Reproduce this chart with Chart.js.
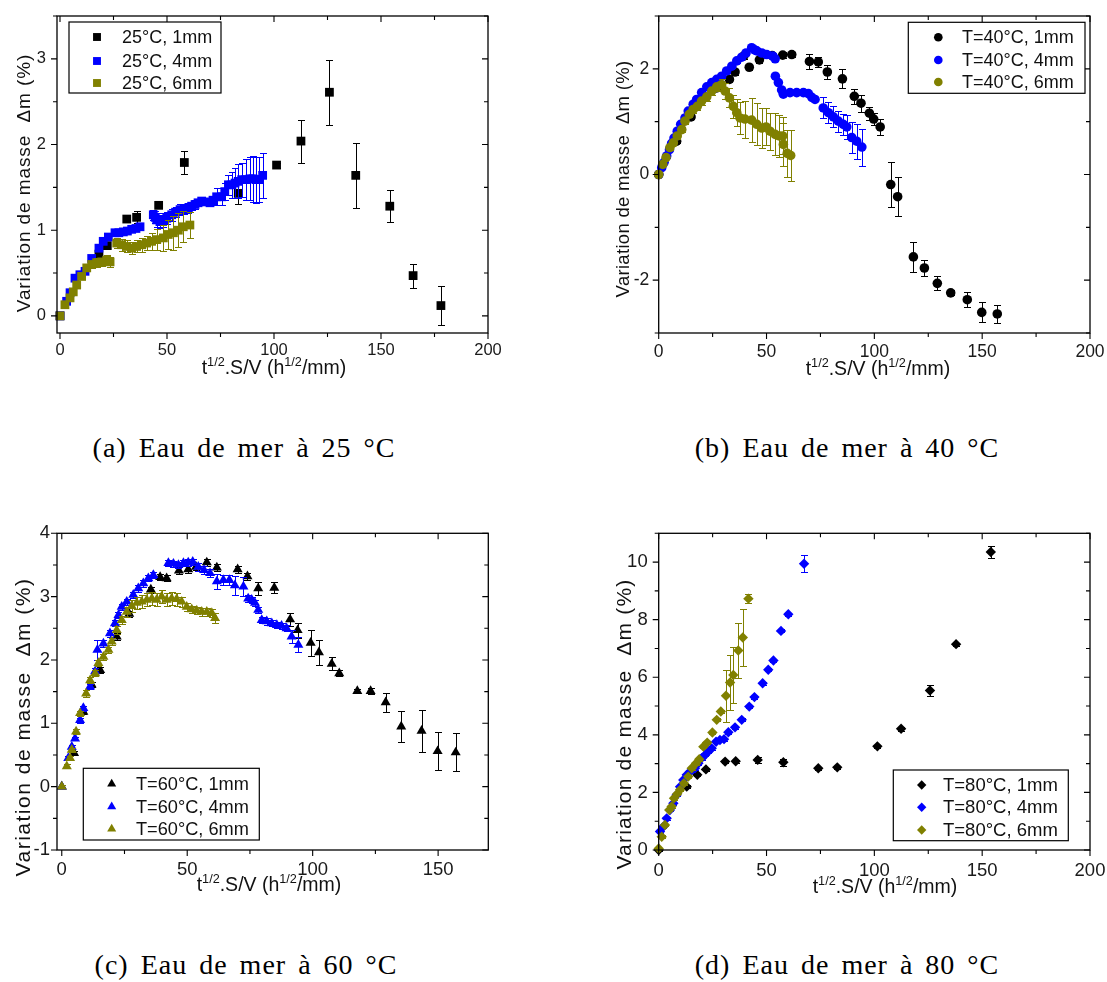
<!DOCTYPE html>
<html>
<head>
<meta charset="utf-8">
<script src="https://cdn.jsdelivr.net/npm/chart.js@4.4.0/dist/chart.umd.min.js"></script>
<style>
  body { margin: 0; background: #fff; width: 1107px; height: 982px; position: relative; overflow: hidden; font-family: "Liberation Sans", Arial, sans-serif; color: #111; }
  canvas { position: absolute; }
  .xt { position: absolute; white-space: nowrap; line-height: 1; transform: translateX(-50%); }
  .xt sup { font-size: 0.65em; vertical-align: 0.6em; line-height: 0; }
  .yt { position: absolute; white-space: pre; line-height: 1; transform: translate(-50%, -50%) rotate(-90deg); }
  .cap { position: absolute; white-space: nowrap; line-height: 1; transform: translateX(-50%); font-family: "Liberation Serif", "DejaVu Serif", serif; font-size: 28px; letter-spacing: 1px; word-spacing: 4px; color: #000; }
</style>
</head>
<body>
<canvas id="ca" width="540" height="400" style="left:0px;top:0px"></canvas>
<canvas id="cb" width="547" height="400" style="left:560px;top:0px"></canvas>
<canvas id="cc" width="540" height="400" style="left:0px;top:500px"></canvas>
<canvas id="cd" width="547" height="400" style="left:560px;top:500px"></canvas>

<div class="yt" style="left:23px;top:183px;font-size:19px;letter-spacing:0.9px">Variation de masse  Δm (%)</div>
<div class="yt" style="left:623px;top:179px;font-size:18.5px;letter-spacing:0.3px">Variation de masse  Δm (%)</div>
<div class="yt" style="left:22px;top:727px;font-size:21px;letter-spacing:1.5px">Variation de masse  Δm (%)</div>
<div class="yt" style="left:623px;top:724px;font-size:21px;letter-spacing:1.2px">Variation de masse  Δm (%)</div>

<div class="xt" style="left:274px;top:358px;font-size:19.5px">t<sup>1/2</sup>.S/V (h<sup>1/2</sup>/mm)</div>
<div class="xt" style="left:878px;top:359px;font-size:19.5px">t<sup>1/2</sup>.S/V (h<sup>1/2</sup>/mm)</div>
<div class="xt" style="left:269px;top:875px;font-size:19.5px">t<sup>1/2</sup>.S/V (h<sup>1/2</sup>/mm)</div>
<div class="xt" style="left:885px;top:877px;font-size:19.5px">t<sup>1/2</sup>.S/V (h<sup>1/2</sup>/mm)</div>

<div class="cap" style="left:244px;top:434px">(a) Eau de mer à 25 °C</div>
<div class="cap" style="left:847px;top:434px">(b) Eau de mer à 40 °C</div>
<div class="cap" style="left:246px;top:951px">(c) Eau de mer à 60 °C</div>
<div class="cap" style="left:847px;top:951px">(d) Eau de mer à 80 °C</div>

<script>
// [x, y, error]
const a1mm = [[0,0,0.02],[18.2,0.72,0.04],[22.1,0.82,0.03],[31.2,1.13,0.03],[35.8,1.15,0.07],[46.1,1.29,0.03],[58.1,1.79,0.13],[83.3,1.43,0.12],[101.2,1.76,0.03],[112.6,2.04,0.25],[125.9,2.61,0.38],[138.2,1.64,0.38],[154.1,1.28,0.19],[165,0.47,0.14],[178,0.12,0.23]];
const a4mm = [[0,0,0.02],[3.1,0.17,0.03],[4.7,0.27,0.03],[7,0.44,0.03],[9.3,0.48,0.03],[11.7,0.52,0.03],[14.8,0.67,0.03],[18.2,0.79,0.03],[20.2,0.87,0.03],[22.6,0.92,0.03],[25.7,0.97,0.03],[27.5,0.97,0.03],[29.6,0.98,0.03],[31.5,0.99,0.03],[33.5,1.01,0.03],[35.5,1.02,0.03],[37.4,1.04,0.04],[43.6,1.18,0.06],[44.5,1.15,0.07],[45.2,1.12,0.08],[46.7,1.10,0.08],[48,1.12,0.08],[49.9,1.14,0.07],[52.2,1.18,0.07],[54,1.21,0.06],[56.1,1.24,0.06],[58,1.25,0.06],[60,1.26,0.06],[61.5,1.28,0.05],[63.1,1.30,0.05],[64.5,1.32,0.04],[66.2,1.34,0.04],[68,1.33,0.04],[70.1,1.32,0.04],[71.5,1.35,0.05],[73.2,1.39,0.1],[75.5,1.39,0.1],[77,1.45,0.1],[78.7,1.53,0.12],[80.3,1.53,0.15],[81.8,1.55,0.18],[83.3,1.57,0.2],[84.9,1.59,0.2],[86.8,1.59,0.24],[88.8,1.60,0.25],[90.2,1.60,0.27],[91.6,1.59,0.27],[93.2,1.59,0.26],[94.7,1.64,0.26]];
const a6mm = [[0,0,0.02],[2.3,0.13,0.02],[4.7,0.21,0.02],[6.2,0.28,0.02],[7.8,0.36,0.02],[10.1,0.46,0.03],[12.5,0.56,0.03],[14.8,0.60,0.04],[17.1,0.62,0.05],[19.5,0.63,0.05],[21.8,0.65,0.06],[23.4,0.63,0.06],[26.5,0.85,0.06],[28.8,0.83,0.07],[31.2,0.81,0.07],[33.5,0.79,0.07],[35.8,0.81,0.07],[38.2,0.83,0.08],[40.5,0.85,0.08],[42.8,0.87,0.1],[45.2,0.89,0.12],[48.3,0.91,0.15],[50.6,0.95,0.17],[53,0.97,0.2],[55.3,1.0,0.2],[57.6,1.04,0.18],[60.7,1.06,0.15]];

const b1mm = [[0,0,0.02],[8.3,0.63,0.04],[15,1.09,0.04],[26.9,1.64,0.05],[32.8,1.80,0.05],[35.4,1.94,0.05],[39.4,2.24,0.05],[42,2.03,0.05],[46.7,2.17,0.06],[52.6,2.25,0.05],[57.5,2.26,0.05],[61.7,2.27,0.05],[69.9,2.14,0.15],[74,2.13,0.1],[78.2,1.94,0.13],[85.2,1.81,0.18],[90.7,1.48,0.14],[93.8,1.35,0.16],[97.7,1.16,0.12],[99.7,1.05,0.12],[102.7,0.90,0.15],[107.6,-0.19,0.42],[110.8,-0.42,0.37],[118.1,-1.56,0.28],[123.2,-1.77,0.15],[129.2,-2.06,0.13],[135.4,-2.24,0.05],[143.1,-2.37,0.14],[149.8,-2.61,0.19],[157,-2.64,0.17]];
const b4mm = [[0,0,0.02],[1.4,0.13,0.02],[2.5,0.23,0.02],[3.7,0.35,0.03],[5,0.47,0.03],[6,0.59,0.03],[7.1,0.69,0.03],[8.6,0.82,0.03],[10.2,0.95,0.03],[12.2,1.07,0.04],[13.7,1.20,0.04],[16,1.33,0.05],[17.6,1.42,0.04],[19.9,1.55,0.04],[22.3,1.66,0.04],[24.6,1.74,0.04],[26.9,1.80,0.04],[29.2,1.86,0.04],[31.5,1.96,0.04],[33.9,2.05,0.04],[36.2,2.15,0.04],[38.5,2.22,0.04],[40.5,2.30,0.04],[43.1,2.40,0.04],[44.5,2.36,0.05],[45.5,2.34,0.05],[47.8,2.30,0.06],[50.1,2.27,0.06],[52.9,2.24,0.06],[54,2.19,0.05],[54.1,1.86,0.03],[55.5,1.74,0.03],[57,1.60,0.03],[57.8,1.52,0.03],[60.9,1.55,0.03],[64,1.55,0.03],[67.1,1.55,0.03],[69.4,1.53,0.03],[71,1.46,0.03],[72.5,1.42,0.03],[76.3,1.26,0.2],[78.7,1.17,0.2],[81,1.09,0.2],[83.3,1.01,0.2],[85.6,0.95,0.2],[87.2,0.90,0.22],[89.5,0.70,0.3],[91.8,0.63,0.33],[94.2,0.52,0.35]];
const b6mm = [[0,0,0.02],[1.9,0.19,0.03],[3.4,0.32,0.03],[5.2,0.51,0.04],[6.8,0.60,0.04],[8.6,0.73,0.05],[10.7,0.85,0.05],[12.2,1.01,0.06],[14.2,1.14,0.06],[16,1.23,0.07],[17.9,1.29,0.07],[19.9,1.39,0.08],[22.3,1.47,0.08],[24.6,1.58,0.08],[26.9,1.66,0.08],[29.2,1.70,0.1],[30.8,1.58,0.15],[32.8,1.45,0.18],[34.6,1.29,0.22],[36.2,1.17,0.25],[37.7,1.07,0.3],[40,1.05,0.35],[43.1,1.03,0.42],[45.5,0.95,0.4],[47.8,0.88,0.38],[49.8,0.90,0.35],[51.6,0.82,0.35],[54,0.76,0.4],[55.9,0.73,0.4],[57.5,0.73,0.35],[57.8,0.57,0.4],[59.6,0.40,0.45],[61.2,0.36,0.48]];

const c1mm = [[0,0,0.02],[4.9,0.53,0.03],[8.6,1.18,0.04],[11.9,1.61,0.04],[15.3,1.84,0.05],[21.9,2.37,0.05],[26.9,2.73,0.05],[35.5,3.11,0.05],[39.2,3.31,0.05],[41.8,3.29,0.05],[46.7,3.41,0.06],[50.4,3.43,0.05],[53.5,3.47,0.05],[57.8,3.54,0.05],[61.8,3.46,0.06],[70.1,3.43,0.06],[74,3.32,0.06],[78.3,3.13,0.1],[84.7,3.14,0.09],[91,2.64,0.1],[94,2.47,0.12],[99.2,2.27,0.2],[102.5,2.12,0.2],[107.6,1.94,0.1],[110.6,1.79,0.05],[117.8,1.51,0.03],[123.1,1.51,0.05],[129.1,1.33,0.15],[135.3,0.95,0.25],[143.4,0.88,0.33],[149.8,0.56,0.3],[157,0.54,0.3]];
const c4mm = [[0,0,0.02],[2.6,0.45,0.03],[4,0.63,0.03],[5.3,0.76,0.03],[7.3,1.05,0.04],[8.6,1.24,0.04],[11.3,1.58,0.04],[13.3,1.82,0.05],[14.2,2.16,0.16],[16.6,2.26,0.05],[19.2,2.42,0.05],[21.2,2.58,0.05],[22.6,2.71,0.05],[23.9,2.84,0.05],[25.9,2.92,0.05],[28.5,3.03,0.05],[30.5,3.13,0.05],[32.5,3.21,0.05],[34.5,3.29,0.05],[36.5,3.34,0.05],[42.5,3.53,0.05],[44.5,3.52,0.05],[46.5,3.50,0.05],[48.5,3.53,0.05],[50.4,3.54,0.05],[52.2,3.55,0.05],[54.4,3.47,0.06],[56.7,3.42,0.06],[59.1,3.37,0.06],[61.8,3.24,0.12],[64.4,3.26,0.08],[66.8,3.26,0.08],[69,3.18,0.15],[72.4,3.16,0.15],[74.3,2.97,0.06],[75.7,2.95,0.05],[77,2.90,0.05],[78.3,2.79,0.05],[79.7,2.63,0.05],[81.7,2.61,0.05],[83.7,2.58,0.05],[85.7,2.55,0.05],[87.6,2.54,0.05],[89.6,2.50,0.05],[91.6,2.37,0.1],[94.3,2.24,0.12]];
const c6mm = [[0,0,0.02],[2,0.32,0.03],[3.3,0.45,0.03],[4,0.58,0.03],[5.7,0.87,0.04],[7.3,1.16,0.04],[9.7,1.47,0.05],[11.3,1.68,0.05],[13.3,1.79,0.05],[14.6,1.95,0.05],[16.6,2.05,0.05],[18.6,2.16,0.05],[19.9,2.29,0.05],[21.9,2.47,0.06],[23.9,2.63,0.06],[25.9,2.76,0.08],[27.9,2.85,0.1],[29.9,2.90,0.1],[31.9,2.92,0.1],[33.9,2.95,0.1],[35.9,2.97,0.1],[37.8,2.95,0.1],[39.8,3.0,0.1],[41.8,2.95,0.1],[43.8,2.97,0.1],[45.8,2.96,0.1],[47.8,2.92,0.08],[49.8,2.84,0.06],[51.8,2.80,0.06],[53.8,2.78,0.06],[55.8,2.76,0.06],[57.8,2.76,0.06],[59.8,2.74,0.06],[61.1,2.66,0.08]];

const d1mm = [[0,0,0.02],[13,2.2,0.05],[17.9,2.61,0.05],[21.9,2.80,0.05],[30.8,3.07,0.05],[35.7,3.08,0.05],[45.9,3.13,0.1],[57.8,3.05,0.12],[74,2.84,0.05],[82.8,2.87,0.05],[101.4,3.60,0.05],[112.4,4.21,0.07],[125.8,5.54,0.2],[137.9,7.15,0.05],[154,10.35,0.2]];
const d4mm = [[0.6,0.64,0.05],[2.1,0.81,0.05],[3.7,1.10,0.05],[5.2,1.39,0.05],[6.8,1.62,0.05],[8.3,1.91,0.05],[9.9,2.20,0.05],[11.4,2.43,0.05],[13,2.61,0.05],[14.5,2.72,0.05],[16.8,2.84,0.05],[18.4,3.01,0.05],[19.9,3.19,0.05],[21.5,3.30,0.05],[23,3.42,0.05],[24.6,3.53,0.05],[26.6,3.76,0.05],[28.4,3.82,0.05],[30.3,3.85,0.05],[32.3,4.09,0.05],[35.4,4.26,0.05],[38.5,4.52,0.05],[42,4.98,0.05],[44.4,5.31,0.05],[48.2,5.79,0.05],[50.8,6.26,0.05],[53.2,6.58,0.05],[56.7,7.61,0.05],[60.1,8.19,0.05],[67.4,9.94,0.3]];
const d6mm = [[0,0.05,0.02],[1.4,0.46,0.05],[2.9,0.87,0.05],[4.9,1.39,0.05],[6,1.51,0.05],[7.1,1.80,0.05],[8.6,1.95,0.05],[9.9,2.09,0.05],[11.7,2.32,0.05],[13.7,2.55,0.05],[15.3,2.84,0.05],[17.3,3.01,0.05],[18.8,3.15,0.05],[20.7,3.59,0.05],[22.5,3.73,0.05],[24.9,4.08,0.05],[26.9,4.52,0.05],[28.8,4.81,0.05],[31.2,5.36,0.9],[33.1,5.82,0.95],[34.6,6.08,0.97],[36.9,6.93,0.97],[39,7.38,1.0],[41.6,8.73,0.15]];

const labelsA = ["25°C, 1mm", "25°C, 4mm", "25°C, 6mm"];
const labelsB = ["T=40°C, 1mm", "T=40°C, 4mm", "T=40°C, 6mm"];
const labelsC = ["T=60°C, 1mm", "T=60°C, 4mm", "T=60°C, 6mm"];
const labelsD = ["T=80°C, 1mm", "T=80°C, 4mm", "T=80°C, 6mm"];

const xMajor200 = [0, 50, 100, 150, 200];
const xMinor200 = [25, 75, 125, 175];
const xMajorC = [0, 50, 100, 150];
const xMinorC = [25, 75, 125];
const yMajorA = [0, 1, 2, 3];
const yMinorA = [0.5, 1.5, 2.5, 3.5];
const yMajorB = [-2, 0, 2];
const yMinorB = [-3, -1, 1, 3];
const yMajorC = [-1, 0, 1, 2, 3, 4];
const yMinorC = [-0.5, 0.5, 1.5, 2.5, 3.5];
const yMajorD = [0, 2, 4, 6, 8, 10];
const yMinorD = [1, 3, 5, 7, 9, 11];

const seriesColors = ["#000000", "#0000ff", "#808000"];

// layout of each panel, page coordinates
const panels = [
    { id: "ca", left: 0, top: 0, w: 540, h: 400, area: [57, 16, 488, 333], xr: [-1.4, 200], yr: [-0.2, 3.5],
      xMajor: xMajor200, xMinor: xMinor200, yMajor: yMajorA, yMinor: yMinorA, series: [a1mm, a4mm, a6mm], labels: labelsA,
      style: "rect", radius: 6.2, tickFont: 16.5, yPad: 11, xPad: 8,
      legend: { box: [69, 22, 221, 93], rows: [37, 61, 83], mx: 97, tx: 122, font: 18 } },
    { id: "cb", left: 560, top: 0, w: 547, h: 400, area: [658.7, 16, 1090, 333], xr: [0, 200], yr: [-3, 3],
      xMajor: xMajor200, xMinor: xMinor200, yMajor: yMajorB, yMinor: yMinorB, series: [b1mm, b4mm, b6mm], labels: labelsB,
      style: "circle", radius: 4.8, tickFont: 17.5, yPad: 9.5, xPad: 9,
      legend: { box: [908.3, 22.3, 1085, 93.3], rows: [37.3, 60, 82], mx: 938.3, tx: 962, font: 18 } },
    { id: "cc", left: 0, top: 500, w: 540, h: 400, area: [57, 533.3, 488.3, 850], xr: [-1.9, 170], yr: [-1, 4],
      xMajor: xMajorC, xMinor: xMinorC, yMajor: yMajorC, yMinor: yMinorC, series: [c1mm, c4mm, c6mm], labels: labelsC,
      style: "triangle", radius: 5.8, tickFont: 18.5, yPad: 7, xPad: 9,
      legend: { box: [83.3, 768.3, 259.3, 840], rows: [784, 806.7, 829], mx: 111.7, tx: 136, font: 18.2 } },
    { id: "cd", left: 560, top: 500, w: 547, h: 400, area: [658.7, 533.3, 1090, 850], xr: [0, 200], yr: [0, 11],
      xMajor: xMajor200, xMinor: xMinor200, yMajor: yMajorD, yMinor: yMinorD, series: [d1mm, d4mm, d6mm], labels: labelsD,
      style: "rectRot", radius: 5.2, tickFont: 18.5, yPad: 11, xPad: 10,
      legend: { box: [893.3, 770, 1068.3, 840.7], rows: [785, 807.3, 830], mx: 921.7, tx: 943, font: 18.5 } },
];

const errorBars = {
    id: "errorBars",
    beforeDatasetDraw(chart, args) {
        const ds = chart.data.datasets[args.index];
        const yScale = chart.scales.y;
        const ctx = chart.ctx;
        ctx.save();
        ctx.strokeStyle = ds.borderColor;
        ctx.lineWidth = 1;
        args.meta.data.forEach((pt, i) => {
            const d = ds.data[i];
            if (!d.e) return;
            const yt = Math.round(yScale.getPixelForValue(d.y + d.e)) + 0.5;
            const yb = Math.round(yScale.getPixelForValue(d.y - d.e)) + 0.5;
            const x = Math.round(pt.x) + 0.5;
            ctx.beginPath();
            ctx.moveTo(x, yt); ctx.lineTo(x, yb);
            ctx.moveTo(x - 3.5, yt); ctx.lineTo(x + 3.5, yt);
            ctx.moveTo(x - 3.5, yb); ctx.lineTo(x + 3.5, yb);
            ctx.stroke();
        });
        ctx.restore();
    },
};

const frame = {
    id: "frame",
    afterDraw(chart, args, opts) {
        const { ctx, chartArea: a, scales: { x, y } } = chart;
        ctx.save();
        ctx.strokeStyle = "#000";
        ctx.lineWidth = 1.3;
        ctx.strokeRect(a.left, a.top, a.right - a.left, a.bottom - a.top);
        ctx.lineWidth = 1.1;
        const xt = (vals, len) => vals.forEach((v) => {
            const px = x.getPixelForValue(v);
            if (px < a.left - 0.5 || px > a.right + 0.5) return;
            ctx.beginPath();
            ctx.moveTo(px, a.bottom); ctx.lineTo(px, a.bottom + len);
            ctx.moveTo(px, a.top); ctx.lineTo(px, a.top + len);
            ctx.stroke();
        });
        const yt = (vals, len) => vals.forEach((v) => {
            const py = y.getPixelForValue(v);
            if (py < a.top - 0.5 || py > a.bottom + 0.5) return;
            ctx.beginPath();
            ctx.moveTo(a.left - len, py); ctx.lineTo(a.left, py);
            ctx.moveTo(a.right - len, py); ctx.lineTo(a.right, py);
            ctx.stroke();
        });
        xt(opts.xMajor, 6); xt(opts.xMinor, 4);
        yt(opts.yMajor, 6); yt(opts.yMinor, 4);

        // legend
        const lg = opts.legend;
        const [bx1, by1, bx2, by2] = lg.box.map((v, i) => v - (i % 2 ? opts.oy : opts.ox));
        ctx.fillStyle = "#fff";
        ctx.fillRect(bx1, by1, bx2 - bx1, by2 - by1);
        ctx.lineWidth = 1.2;
        ctx.strokeRect(bx1, by1, bx2 - bx1, by2 - by1);
        chart.data.datasets.forEach((ds, i) => {
            const ry = lg.rows[i] - opts.oy;
            ctx.fillStyle = ds.backgroundColor;
            ctx.strokeStyle = ds.backgroundColor;
            Chart.helpers.drawPoint(ctx, { pointStyle: ds.pointStyle, radius: ds.pointRadius * 0.9, rotation: 0, borderWidth: 0 }, lg.mx - opts.ox, ry);
            ctx.fillStyle = "#111";
            ctx.font = `${lg.font}px "Liberation Sans", Arial, sans-serif`;
            ctx.textBaseline = "middle";
            ctx.textAlign = "left";
            ctx.fillText(ds.label, lg.tx - opts.ox, ry + 1);
        });
        ctx.restore();
    },
};

panels.forEach((p) => {
    const [l, t, r, b] = p.area;
    const datasets = p.series.map((s, i) => ({
        label: p.labels[i],
        data: s.map(([x, y, e]) => ({ x, y, e })),
        pointStyle: p.style,
        pointRadius: p.radius,
        backgroundColor: seriesColors[i],
        borderColor: seriesColors[i],
        borderWidth: 0,
        order: 3 - i,
        clip: false,
    }));
    new Chart(document.getElementById(p.id), {
        type: "scatter",
        data: { datasets },
        options: {
            responsive: false,
            animation: false,
            events: [],
            layout: { padding: { left: 0, top: t - p.top, right: p.left + p.w - r, bottom: 0 } },
            plugins: {
                legend: { display: false },
                tooltip: { enabled: false },
                frame: { xMajor: p.xMajor, xMinor: p.xMinor, yMajor: p.yMajor, yMinor: p.yMinor, legend: p.legend, ox: p.left, oy: p.top },
            },
            scales: {
                x: {
                    type: "linear", position: "bottom", bounds: "data", min: p.xr[0], max: p.xr[1],
                    grid: { display: false, drawTicks: false }, border: { display: false },
                    ticks: { padding: p.xPad, color: "#1a1a1a", font: { size: p.tickFont, family: '"Liberation Sans", Arial' }, callback: (v) => String(v), maxRotation: 0 },
                    afterBuildTicks: (s) => { s.ticks = p.xMajor.map((v) => ({ value: v })); },
                    afterFit: (s) => { s.height = p.top + p.h - b; s.paddingLeft = 0; s.paddingRight = 0; },
                },
                y: {
                    type: "linear", position: "left", bounds: "data", min: p.yr[0], max: p.yr[1],
                    grid: { display: false, drawTicks: false }, border: { display: false },
                    ticks: { padding: p.yPad, color: "#1a1a1a", font: { size: p.tickFont, family: '"Liberation Sans", Arial' }, callback: (v) => String(v) },
                    afterBuildTicks: (s) => { s.ticks = p.yMajor.map((v) => ({ value: v })); },
                    afterFit: (s) => { s.width = l - p.left; s.paddingTop = 0; s.paddingBottom = 0; },
                },
            },
        },
        plugins: [errorBars, frame],
    });
});
</script>
</body>
</html>
